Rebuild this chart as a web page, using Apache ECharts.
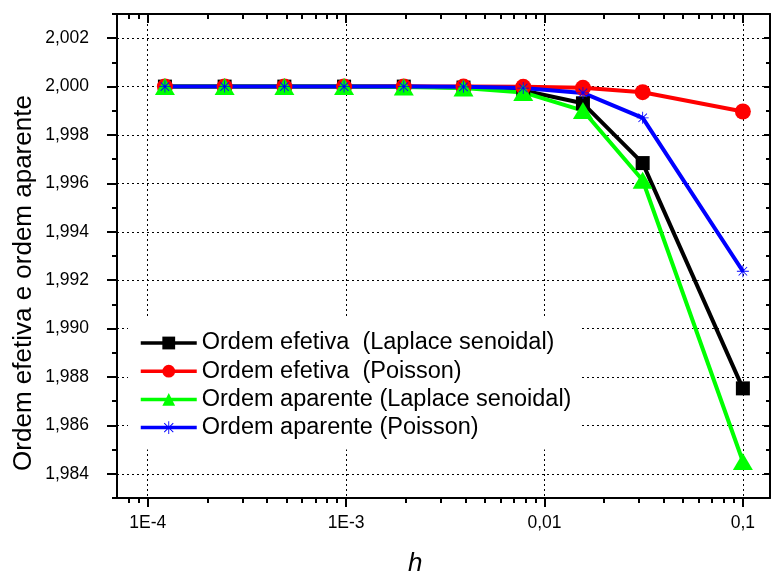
<!DOCTYPE html>
<html>
<head>
<meta charset="utf-8">
<script src="https://cdn.jsdelivr.net/npm/echarts@6/dist/echarts.min.js"></script>
<style>
  html, body { margin: 0; padding: 0; background: #fff; }
  #chart { width: 771px; height: 578px; }
</style>
</head>
<body>
<div id="chart"></div>
<script>
// Mesh spacing h (1/8192 ... 1/32, then 0.1)
const hValues = [0.00012207, 0.00024414, 0.00048828, 0.00097656, 0.00195313,
                 0.00390625, 0.0078125, 0.015625, 0.03125, 0.1];

// Convergence orders per series
const efetivaLaplace  = [2.00000, 2.00000, 2.00000, 2.00000, 2.00000, 1.99996, 1.99984, 1.99931, 1.99684, 1.98753];
const efetivaPoisson  = [2.00000, 2.00000, 2.00000, 2.00000, 2.00000, 2.00000, 1.99999, 1.99995, 1.99977, 1.99897];
const aparenteLaplace = [2.00000, 2.00000, 2.00000, 2.00000, 1.99998, 1.99994, 1.99976, 1.99901, 1.99613, 1.98451];
const aparentePoisson = [2.00000, 2.00000, 2.00000, 2.00000, 2.00000, 1.99999, 1.99994, 1.99974, 1.99871, 1.99237];

const seriesNames = [
  'Ordem efetiva  (Laplace senoidal)',
  'Ordem efetiva  (Poisson)',
  'Ordem aparente (Laplace senoidal)',
  'Ordem aparente (Poisson)'
];

// Axis ticks and labels
const xMajorTicks = [1e-4, 1e-3, 1e-2, 1e-1];
const xTickLabels = ['1E-4', '1E-3', '0,01', '0,1'];
const xMinorTicks = [8e-5, 9e-5,
  2e-4, 3e-4, 4e-4, 5e-4, 6e-4, 7e-4, 8e-4, 9e-4,
  2e-3, 3e-3, 4e-3, 5e-3, 6e-3, 7e-3, 8e-3, 9e-3,
  2e-2, 3e-2, 4e-2, 5e-2, 6e-2, 7e-2, 8e-2, 9e-2];
const yMajorTicks = [1.984, 1.986, 1.988, 1.990, 1.992, 1.994, 1.996, 1.998, 2.000, 2.002];
const yMinorTicks = [1.983, 1.985, 1.987, 1.989, 1.991, 1.993, 1.995, 1.997, 1.999, 2.001, 2.003];

const X_MIN = 7e-5, X_MAX = 0.137;
const Y_MIN = 1.983, Y_MAX = 2.003;
const FONT = 'Liberation Sans, Arial, sans-serif';

// Eight-armed asterisk marker
const asteriskPath = 'path://' +
  'M9.3,0L9.3,20L10.7,20L10.7,0Z' +
  'M0,10.7L20,10.7L20,9.3L0,9.3Z' +
  'M2.43,3.43L16.57,17.57L17.57,16.57L3.43,2.43Z' +
  'M16.57,2.43L2.43,16.57L3.43,17.57L17.57,3.43Z';

function pairs(ys) { return hValues.map((h, i) => [h, ys[i]]); }

function xAxisDef(position, ticks, len, inside, main) {
  return {
    type: 'log', logBase: 10, min: X_MIN, max: X_MAX, position: position,
    axisLine: { show: main, onZero: false, lineStyle: { color: '#000', width: 2 } },
    axisTick: { show: true, inside: inside, length: len, customValues: ticks,
                lineStyle: { color: '#000', width: 2 } },
    axisLabel: main && position === 'bottom' ? {
      show: true, customValues: xMajorTicks, margin: 16, color: '#000',
      fontFamily: FONT, fontSize: 17.5,
      formatter: function (v) {
        let best = 0;
        xMajorTicks.forEach((t, i) => {
          if (Math.abs(Math.log10(t) - Math.log10(v)) < Math.abs(Math.log10(xMajorTicks[best]) - Math.log10(v))) best = i;
        });
        return xTickLabels[best];
      }
    } : { show: false },
    splitLine: main && position === 'bottom' ? {
      show: true, lineStyle: { color: '#000', width: 1, type: [2, 3] }
    } : { show: false },
    minorTick: { show: false }
  };
}

function yAxisDef(position, ticks, len, inside, main) {
  return {
    type: 'value', min: Y_MIN, max: Y_MAX, position: position,
    axisLine: { show: main, onZero: false, lineStyle: { color: '#000', width: 2 } },
    axisTick: { show: true, inside: inside, length: len, customValues: ticks,
                lineStyle: { color: '#000', width: 2 } },
    axisLabel: main && position === 'left' ? {
      show: true, customValues: yMajorTicks, margin: 28, color: '#000',
      fontFamily: FONT, fontSize: 17.5,
      formatter: v => v.toFixed(3).replace('.', ',')
    } : { show: false },
    splitLine: main && position === 'left' ? {
      show: true, lineStyle: { color: '#000', width: 1, type: [2, 3] }
    } : { show: false }
  };
}

function lineSeries(name, data, color, symbol, size) {
  return {
    name: name, type: 'line', data: pairs(data),
    xAxisIndex: 0, yAxisIndex: 0,
    symbol: symbol, symbolSize: size,
    lineStyle: { color: color, width: 4 },
    itemStyle: { color: color },
    emphasis: { disabled: true },
    animation: false
  };
}

const chart = echarts.init(document.getElementById('chart'), null, { renderer: 'canvas' });

chart.setOption({
  backgroundColor: '#fff',
  animation: false,
  grid: { left: 117, right: 1, top: 14, bottom: 80, containLabel: false },
  xAxis: [
    xAxisDef('bottom', xMajorTicks, 9, false, true),
    xAxisDef('bottom', xMinorTicks, 5, false, false),
    xAxisDef('top', xMajorTicks, 9, true, true),
    xAxisDef('top', xMinorTicks, 5, true, false)
  ],
  yAxis: [
    yAxisDef('left', yMajorTicks, 10, false, true),
    yAxisDef('left', yMinorTicks, 5, false, false),
    yAxisDef('right', yMajorTicks, 6, true, true),
    yAxisDef('right', yMinorTicks, 4, true, false)
  ],
  legend: {
    orient: 'vertical', left: 128, top: 318,
    padding: [13, 10, 10, 11], backgroundColor: '#fff',
    itemWidth: 56, itemHeight: 16, itemGap: 4.2,
    lineStyle: { width: 3.5 },
    textStyle: { color: '#000', fontFamily: FONT, fontSize: 23.5, lineHeight: 22 },
    data: seriesNames
  },
  title: {
    text: 'h', left: 403, top: 546,
    textStyle: { fontFamily: FONT, fontSize: 26, fontStyle: 'italic', fontWeight: 'normal', color: '#000' }
  },
  graphic: [{
    type: 'text', x: 24, y: 283, rotation: Math.PI / 2,
    style: {
      text: 'Ordem efetiva e ordem aparente', fill: '#000',
      font: '26px ' + FONT, align: 'center', verticalAlign: 'middle'
    }
  }],
  series: [
    lineSeries(seriesNames[0], efetivaLaplace, '#000000', 'rect', 14),
    lineSeries(seriesNames[1], efetivaPoisson, '#ff0000', 'circle', 16),
    lineSeries(seriesNames[2], aparenteLaplace, '#00ff00', 'triangle', [20, 17]),
    lineSeries(seriesNames[3], aparentePoisson, '#0000ff', asteriskPath, 12)
  ]
});
</script>
</body>
</html>
